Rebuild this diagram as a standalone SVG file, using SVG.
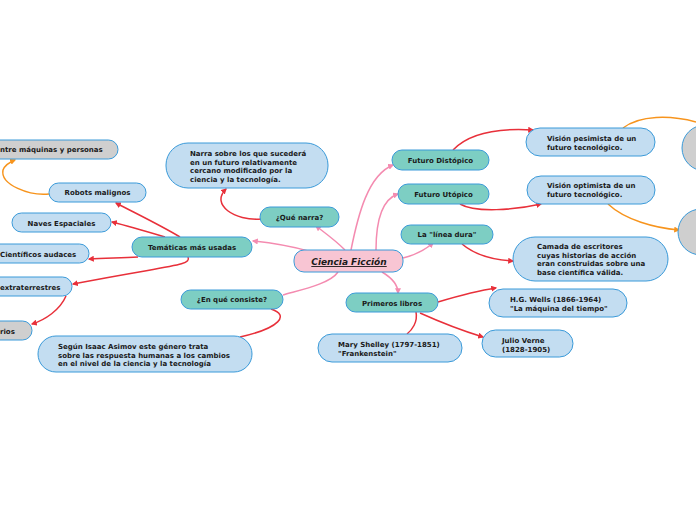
<svg xmlns="http://www.w3.org/2000/svg" width="696" height="520" viewBox="0 0 696 520">
<defs>
<style>
.t{font-family:"DejaVu Sans","Verdana",sans-serif;font-weight:bold;font-size:7px;fill:#1a1a1a}
.c{text-anchor:middle}
.teal{fill:#7dcec3;stroke:#3a9ad9;stroke-width:1}
.lb{fill:#c3ddf1;stroke:#3a9ad9;stroke-width:1}
.gr{fill:#cfcfcf;stroke:#3a9ad9;stroke-width:1}
.pk{fill:#f8c5d3;stroke:#3a9ad9;stroke-width:1}
.pl{fill:none;stroke:#f48bb0;stroke-width:1.5}
.rl{fill:none;stroke:#e8303a;stroke-width:1.5}
.ol{fill:none;stroke:#f7941d;stroke-width:1.5}
</style>
<marker id="ap" viewBox="0 0 10 10" refX="8" refY="5" markerWidth="6" markerHeight="6" orient="auto" markerUnits="userSpaceOnUse"><path d="M0,0 L10,5 L0,10 Z" fill="#f48bb0"/></marker>
<marker id="ar" viewBox="0 0 10 10" refX="8" refY="5" markerWidth="6" markerHeight="6" orient="auto" markerUnits="userSpaceOnUse"><path d="M0,0 L10,5 L0,10 Z" fill="#e8303a"/></marker>
<marker id="ao" viewBox="0 0 10 10" refX="8" refY="5" markerWidth="6" markerHeight="6" orient="auto" markerUnits="userSpaceOnUse"><path d="M0,0 L10,5 L0,10 Z" fill="#f7941d"/></marker>
</defs>
<rect width="696" height="520" fill="#ffffff"/>
<g id="connectors">
<path class="pl" d="M345,250 C335,240 325,233 316,226" marker-end="url(#ap)"/>
<path class="pl" d="M308,251 C290,246 272,243 253,241" marker-end="url(#ap)"/>
<path class="pl" d="M351,250 C358,215 368,175 393,165" marker-end="url(#ap)"/>
<path class="pl" d="M376,250 C376,225 380,200 398,194" marker-end="url(#ap)"/>
<path class="pl" d="M403,258 C415,255 425,250 433,243" marker-end="url(#ap)"/>
<path class="pl" d="M382,272 C392,278 398,285 398,293" marker-end="url(#ap)"/>
<path class="pl" d="M338,272 C330,284 300,290 283,295"/>
<path class="rl" d="M261,219 C235,221 210,205 226,189" marker-end="url(#ar)"/>
<path class="rl" d="M180,237 C160,225 135,213 116,203" marker-end="url(#ar)"/>
<path class="rl" d="M165,237 C145,231 128,226 112,222" marker-end="url(#ar)"/>
<path class="rl" d="M138,257 C120,258 105,258 89,259" marker-end="url(#ar)"/>
<path class="rl" d="M188,257 C192,266 170,265 73,284" marker-end="url(#ar)"/>
<path class="rl" d="M66,296 C60,310 45,320 32,324" marker-end="url(#ar)"/>
<path class="rl" d="M271,309 C290,315 280,328 240,337"/>
<path class="rl" d="M453,150 C470,132 500,128 533,130" marker-end="url(#ar)"/>
<path class="rl" d="M460,204 C475,213 515,210 541,204" marker-end="url(#ar)"/>
<path class="rl" d="M462,244 C475,255 495,260 513,261" marker-end="url(#ar)"/>
<path class="rl" d="M438,302 C458,296 475,291 496,288" marker-end="url(#ar)"/>
<path class="rl" d="M420,313 C440,322 460,330 483,337" marker-end="url(#ar)"/>
<path class="rl" d="M416,312 C418,322 412,330 407,334"/>
<path class="ol" d="M49,194 C30,196 0,185 3,170 C5,165 10,162 15,160" marker-end="url(#ao)"/>
<path class="ol" d="M623,128 C640,115 670,115 696,122"/>
<path class="ol" d="M608,204 C625,220 655,228 679,230" marker-end="url(#ao)"/>
</g>
<g id="n-ciencia"><rect class="pk" x="294" y="250" width="109" height="22" rx="10"/><text class="t" x="349" y="265" text-anchor="middle" style="font-size:9px;font-style:italic;text-decoration:underline">Ciencia Ficción</text></g>
<g id="n-quenarra"><rect class="teal" x="260" y="207" width="79" height="20" rx="10"/><text class="t c" x="299.5" y="219.5">¿Qué narra?</text></g>
<g id="n-narra"><rect class="lb" x="166" y="143" width="162" height="45" rx="22"/><text class="t"><tspan x="190" y="156">Narra sobre los que sucederá</tspan><tspan x="190" y="164.5">en un futuro relativamente</tspan><tspan x="190" y="173">cercano modificado por la</tspan><tspan x="190" y="181.5">ciencia y la tecnología.</tspan></text></g>
<g id="n-tematicas"><rect class="teal" x="132" y="237" width="120" height="20" rx="10"/><text class="t c" x="192" y="249.5">Temáticas más usadas</text></g>
<g id="n-robots"><rect class="lb" x="49" y="183" width="97" height="19" rx="9.5"/><text class="t c" x="97.5" y="195">Robots malignos</text></g>
<g id="n-maquinas"><rect class="gr" x="-20" y="140" width="138" height="19" rx="9.5"/><text class="t" x="0" y="152">ntre máquinas y personas</text></g>
<g id="n-naves"><rect class="lb" x="12" y="213" width="99" height="19" rx="9.5"/><text class="t c" x="61.5" y="225.5">Naves Espaciales</text></g>
<g id="n-cientificos"><rect class="lb" x="-20" y="244" width="109" height="19" rx="9.5"/><text class="t" x="0" y="256.5">Científicos audaces</text></g>
<g id="n-extra"><rect class="lb" x="-20" y="277" width="92" height="19" rx="9.5"/><text class="t" x="0" y="289.5">extraterrestres</text></g>
<g id="n-rios"><rect class="gr" x="-20" y="321" width="52" height="19" rx="9.5"/><text class="t" x="0" y="333.5">rios</text></g>
<g id="n-consiste"><rect class="teal" x="181" y="290" width="102" height="19" rx="9.5"/><text class="t c" x="232" y="302">¿En qué consiste?</text></g>
<g id="n-asimov"><rect class="lb" x="38" y="336" width="214" height="36" rx="18"/><text class="t"><tspan x="58" y="349">Según Isaac Asimov este género trata</tspan><tspan x="58" y="357.5">sobre las respuesta humanas a los cambios</tspan><tspan x="58" y="366">en el nivel de la ciencia y la tecnología</tspan></text></g>
<g id="n-distopico"><rect class="teal" x="392" y="150" width="97" height="20" rx="10"/><text class="t c" x="440.5" y="162.5">Futuro Distópico</text></g>
<g id="n-utopico"><rect class="teal" x="398" y="184" width="91" height="20" rx="10"/><text class="t c" x="443.5" y="196.5">Futuro Utópico</text></g>
<g id="n-linea"><rect class="teal" x="401" y="225" width="92" height="19" rx="9.5"/><text class="t c" x="447" y="237">La "línea dura"</text></g>
<g id="n-primeros"><rect class="teal" x="346" y="293" width="92" height="19" rx="9.5"/><text class="t c" x="392" y="305.5">Primeros libros</text></g>
<g id="n-pesimista"><rect class="lb" x="526" y="128" width="129" height="28" rx="14"/><text class="t"><tspan x="547" y="141">Visión pesimista de un</tspan><tspan x="547" y="150">futuro tecnológico.</tspan></text></g>
<g id="n-optimista"><rect class="lb" x="527" y="176" width="128" height="28" rx="14"/><text class="t"><tspan x="547" y="188">Visión optimista de un</tspan><tspan x="547" y="197">futuro tecnológico.</tspan></text></g>
<g id="n-camada"><rect class="lb" x="513" y="237" width="155" height="44" rx="22"/><text class="t"><tspan x="537" y="249">Camada de escritores</tspan><tspan x="537" y="257.5">cuyas historias de acción</tspan><tspan x="537" y="266">eran construidas sobre una</tspan><tspan x="537" y="274.5">base científica válida.</tspan></text></g>
<g id="n-wells"><rect class="lb" x="489" y="289" width="138" height="28" rx="14"/><text class="t"><tspan x="510" y="302">H.G. Wells (1866-1964)</tspan><tspan x="510" y="310.5">"La máquina del tiempo"</tspan></text></g>
<g id="n-verne"><rect class="lb" x="482" y="330" width="91" height="27" rx="13.5"/><text class="t"><tspan x="502" y="343">Julio Verne</tspan><tspan x="502" y="351.5">(1828-1905)</tspan></text></g>
<g id="n-shelley"><rect class="lb" x="318" y="334" width="144" height="28" rx="14"/><text class="t"><tspan x="338" y="347">Mary Shelley (1797-1851)</tspan><tspan x="338" y="355.5">"Frankenstein"</tspan></text></g>
<g id="n-gris1"><rect class="gr" x="682" y="125" width="60" height="46" rx="23"/></g>
<g id="n-gris2"><rect class="gr" x="678" y="209" width="60" height="46" rx="23"/></g>
</svg>
